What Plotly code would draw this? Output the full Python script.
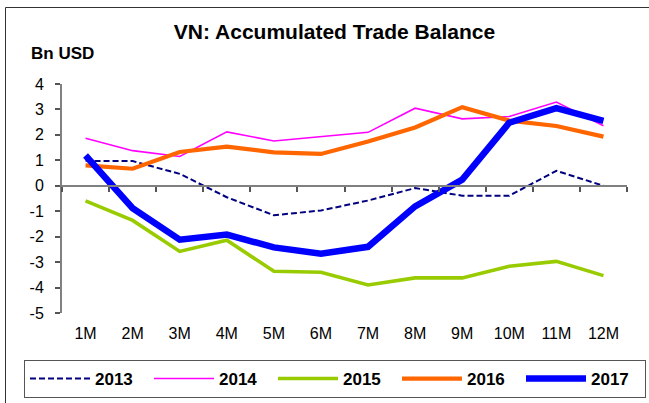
import plotly.graph_objects as go

months = ["1M", "2M", "3M", "4M", "5M", "6M", "7M", "8M", "9M", "10M", "11M", "12M"]

bal_2013 = [0.98, 0.97, 0.47, -0.45, -1.16, -0.97, -0.58, -0.09, -0.39, -0.39, 0.59, 0.0]
bal_2014 = [1.87, 1.38, 1.15, 2.12, 1.76, 1.93, 2.10, 3.05, 2.63, 2.72, 3.29, 2.36]
bal_2015 = [-0.59, -1.36, -2.58, -2.14, -3.36, -3.40, -3.90, -3.62, -3.62, -3.16, -2.97, -3.53]
bal_2016 = [0.80, 0.67, 1.33, 1.54, 1.31, 1.25, 1.74, 2.29, 3.09, 2.56, 2.35, 1.93]
bal_2017 = [1.19, -0.88, -2.12, -1.92, -2.42, -2.67, -2.40, -0.81, 0.24, 2.48, 3.05, 2.55]

series = [
    ("2013", bal_2013, "#000080", 2, "6px,3px"),
    ("2014", bal_2014, "#FF00FF", 1.6, "solid"),
    ("2015", bal_2015, "#99CC00", 3.6, "solid"),
    ("2016", bal_2016, "#FF6600", 4.2, "solid"),
    ("2017", bal_2017, "#0000FF", 6.5, "solid"),
]

y_ticks = [4, 3, 2, 1, 0, -1, -2, -3, -4, -5]

W, H = 649, 403
ML, MR, MT, MB = 62, 22, 84, 90
PW, PH = W - ML - MR, H - MT - MB


def px_x(p):
    return (p - ML) / PW


def px_y(p):
    return (H - MB - p) / PH


fig = go.Figure()

for name, vals, color, width, dash in series:
    fig.add_trace(go.Scatter(
        x=months, y=vals, name=f"<b>{name}</b>", mode="lines",
        line=dict(color=color, width=width, dash=dash),
    ))

# invisible trace that carries the category axis drawn along y = 0
fig.add_trace(go.Scatter(
    x=months, y=[None] * len(months), xaxis="x2", showlegend=False,
    hoverinfo="skip", mode="lines",
))

axis_grey = "#808080"
font_family = "Liberation Sans, Arial, sans-serif"

legend_symbol_w = 60
legend_item_w = 119

fig.update_layout(
    width=W, height=H,
    margin=dict(l=ML, r=MR, t=MT, b=MB, autoexpand=False),
    paper_bgcolor="white", plot_bgcolor="white",
    font=dict(family=font_family, color="black"),
    showlegend=True,
    title=dict(
        text="<b>VN: Accumulated Trade Balance</b>",
        x=334.5 / W, y=1 - 32 / H, xref="container", yref="container",
        xanchor="center", yanchor="middle",
        font=dict(size=21, family=font_family, color="black"),
    ),
    xaxis=dict(
        type="category", categoryarray=months, range=[-0.5, 11.5],
        showline=False, showgrid=False, zeroline=False,
        ticks="outside", ticklen=6, tickcolor="rgba(0,0,0,0)",
        tickfont=dict(size=16, family=font_family, color="black"),
    ),
    xaxis2=dict(
        type="category", categoryarray=months, range=[-0.5, 11.5],
        overlaying="x", anchor="free", position=5 / 9,
        showline=True, linecolor=axis_grey, linewidth=2,
        ticks="outside", tickson="boundaries", ticklen=5, tickwidth=1.5,
        tickcolor="#555555", showticklabels=False, showgrid=False,
        zeroline=False,
    ),
    yaxis=dict(
        range=[-5, 4], tickvals=y_ticks, ticktext=[str(v) for v in y_ticks],
        showline=True, linecolor=axis_grey, linewidth=2,
        ticks="outside", ticklen=5, tickwidth=1.5, tickcolor="#555555",
        ticklabelstandoff=8,
        showgrid=False, zeroline=False,
        tickfont=dict(size=16, family=font_family, color="black"),
    ),
    legend=dict(
        orientation="h",
        x=px_x(24), y=px_y(360), xanchor="left", yanchor="top",
        bordercolor="#555555", borderwidth=1, bgcolor="white",
        itemwidth=legend_symbol_w,
        entrywidth=legend_item_w - (legend_symbol_w + 10), entrywidthmode="pixels",
        font=dict(size=17, family=font_family, color="black"),
        traceorder="normal",
    ),
    annotations=[
        dict(
            text="<b>Bn USD</b>", x=px_x(62), y=px_y(53.5),
            xref="paper", yref="paper", xanchor="center", yanchor="middle",
            showarrow=False, font=dict(size=17, family=font_family, color="black"),
        ),
    ],
    shapes=[
        dict(
            type="rect", xref="paper", yref="paper",
            x0=px_x(5.5), x1=px_x(W + 10), y0=px_y(H + 10), y1=px_y(7.5),
            line=dict(color="#333333", width=1), fillcolor="rgba(0,0,0,0)",
            layer="below",
        ),
    ],
)

fig.write_html("out.html")
